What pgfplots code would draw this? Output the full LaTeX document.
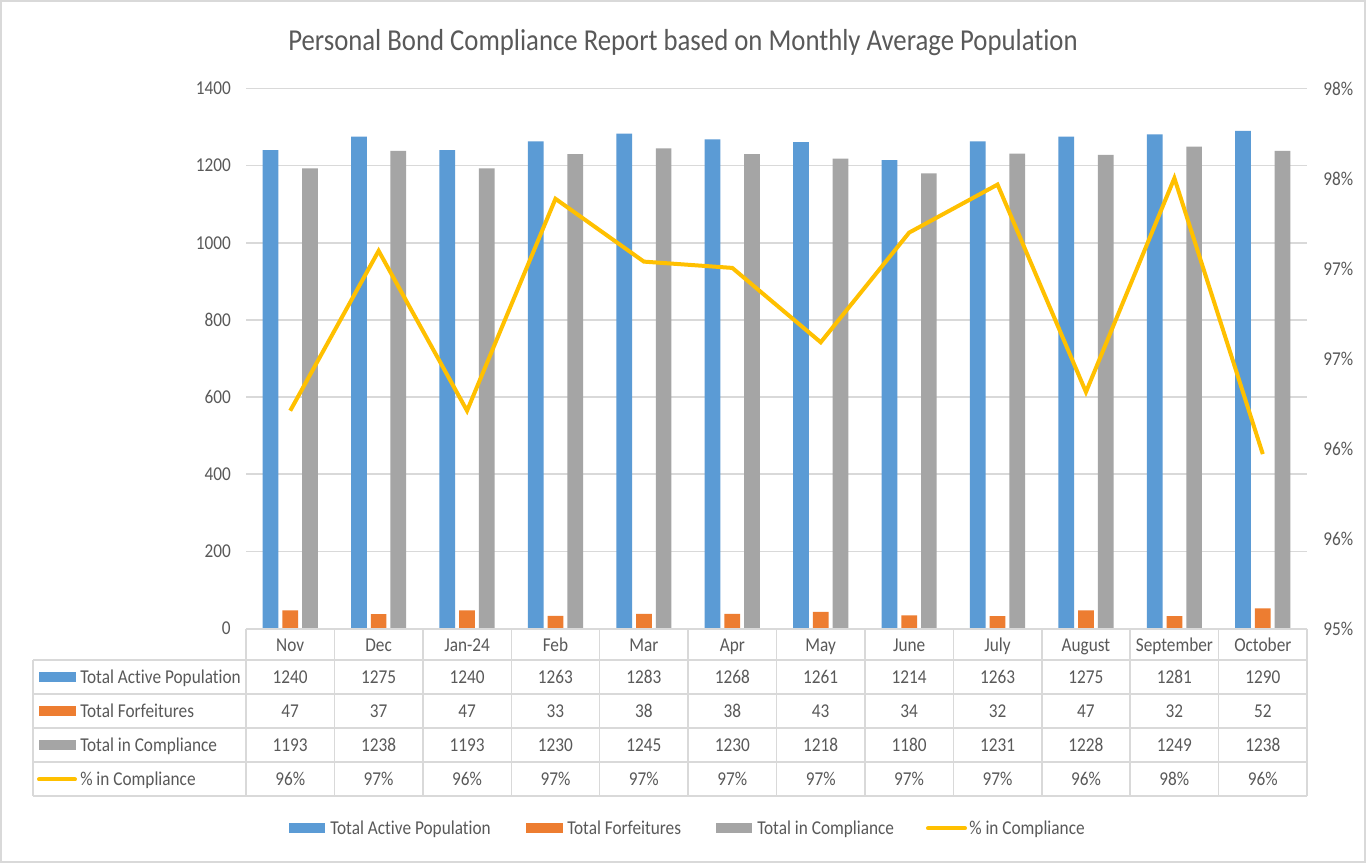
\documentclass[border=0pt]{standalone}
\usepackage{fontspec}
\setmainfont{Carlito}[FakeStretch=0.88, Ligatures=NoCommon]
\usepackage{pgfplots}
\pgfplotsset{compat=1.18}
\definecolor{cblue}{HTML}{5B9BD5}
\definecolor{corange}{HTML}{ED7D31}
\definecolor{cgray}{HTML}{A5A5A5}
\definecolor{cyellow}{HTML}{FFC000}
\definecolor{cgrid}{HTML}{D9D9D9}
\definecolor{ctext}{HTML}{595959}
\newcommand\lbl{\fontsize{14.7}{17}\selectfont}

\begin{document}
\begin{tikzpicture}[x=0.75pt,y=0.75pt]
\useasboundingbox (0,0) rectangle (1366,863);
\fill[white] (0,0) rectangle (1366,863);
\draw[cgrid, line width=1.1pt] (1,1) rectangle (1365,862);

% title
\node[anchor=base, text=ctext, font=\fontsize{22.8}{27}\selectfont, inner sep=0pt] at (683,812)
  {Personal Bond Compliance Report based on Monthly Average Population};

% bars on the left axis
\begin{axis}[at={(184.5pt,175.875pt)}, anchor=south west, scale only axis,
  width=795.75pt, height=405pt,
  xmin=-0.5, xmax=11.5, ymin=0, ymax=1400, ytick={0,200,...,1400}, xtick=\empty,
  ymajorgrids, grid style={cgrid, line width=1.1pt},
  axis line style={draw=none}, major tick length=0pt,
  /pgf/number format/1000 sep={}, /pgf/number format/assume math mode=true,
  yticklabel style={font=\lbl, text=ctext, inner xsep=0pt, xshift=-11.25pt},
  ybar=3pt, bar width=11.8pt, clip=false]
\addplot[fill=cblue, draw=none] coordinates {(0,1240) (1,1275) (2,1240) (3,1263) (4,1283) (5,1268) (6,1261) (7,1214) (8,1263) (9,1275) (10,1281) (11,1290)};
\addplot[fill=corange, draw=none] coordinates {(0,47) (1,37) (2,47) (3,33) (4,38) (5,38) (6,43) (7,34) (8,32) (9,47) (10,32) (11,52)};
\addplot[fill=cgray, draw=none] coordinates {(0,1193) (1,1238) (2,1193) (3,1230) (4,1245) (5,1230) (6,1218) (7,1180) (8,1231) (9,1228) (10,1249) (11,1238)};
\end{axis}

% line on the right axis
\begin{axis}[at={(184.5pt,175.875pt)}, anchor=south west, scale only axis,
  width=795.75pt, height=405pt,
  xmin=-0.5, xmax=11.5, ymin=0.95, ymax=0.98,
  ytick={0.95,0.955,0.96,0.965,0.97,0.975,0.98},
  yticklabels={95\%,96\%,96\%,97\%,97\%,98\%,98\%},
  xtick=\empty, axis y line*=right, axis x line=none,
  axis line style={draw=none}, major tick length=0pt,
  yticklabel style={font=\lbl, text=ctext, inner xsep=0pt, xshift=12pt},
  clip=false]
\addplot[cyellow, line width=3pt, line join=miter, mark=none] coordinates {(0,0.962097) (1,0.970980) (2,0.962097) (3,0.973872) (4,0.970382) (5,0.970032) (6,0.965900) (7,0.971993) (8,0.974663) (9,0.963137) (10,0.975020) (11,0.959690)};
\end{axis}

% data table grid
\draw[cgrid, line width=1.1pt] (246,234) -- (1307,234);
\foreach \y in {203,169,135,101,67} \draw[cgrid, line width=1.1pt] (33,\y) -- (1307,\y);
\draw[cgrid, line width=1.1pt] (33,203) -- (33,67);
\foreach \k in {0,...,12} \draw[cgrid, line width=1.1pt] (246+\k*88.417,234) -- (246+\k*88.417,67);

\begin{scope}[every node/.style={anchor=base, text=ctext, font=\lbl, inner sep=0pt}]
\foreach \t [count=\i from 0] in {Nov,Dec,Jan-24,Feb,Mar,Apr,May,June,July,August,September,October}
  \node at (290.21+\i*88.417,211.7) {\t};
\foreach \t [count=\i from 0] in {1240,1275,1240,1263,1283,1268,1261,1214,1263,1275,1281,1290}
  \node at (290.21+\i*88.417,179.7) {\t};
\foreach \t [count=\i from 0] in {47,37,47,33,38,38,43,34,32,47,32,52}
  \node at (290.21+\i*88.417,145.7) {\t};
\foreach \t [count=\i from 0] in {1193,1238,1193,1230,1245,1230,1218,1180,1231,1228,1249,1238}
  \node at (290.21+\i*88.417,111.7) {\t};
\foreach \t [count=\i from 0] in {96,97,96,97,97,97,97,97,97,96,98,96}
  \node at (290.21+\i*88.417,77.7) {\t\%};

% row labels
\fill[cblue] (39,180.5) rectangle (76,190.5);
\node[anchor=base west] at (80,179.7) {Total Active Population};
\fill[corange] (39,146.5) rectangle (76,156.5);
\node[anchor=base west] at (80,145.7) {Total Forfeitures};
\fill[cgray] (39,112.5) rectangle (76,122.5);
\node[anchor=base west] at (80,111.7) {Total in Compliance};
\draw[cyellow, line width=3pt, line cap=round] (39,83.5) -- (75,83.5);
\node[anchor=base west] at (80,77.7) {\% in Compliance};

% legend
\fill[cblue] (289,29.7) rectangle (325,40.3);
\node[anchor=base west] at (330,28) {Total Active Population};
\fill[corange] (526,29.7) rectangle (563,40.3);
\node[anchor=base west] at (567,28) {Total Forfeitures};
\fill[cgray] (716,29.7) rectangle (752,40.3);
\node[anchor=base west] at (757,28) {Total in Compliance};
\draw[cyellow, line width=3pt, line cap=round] (928,34.7) -- (965,34.7);
\node[anchor=base west] at (969,28) {\% in Compliance};
\end{scope}
\end{tikzpicture}
\end{document}
